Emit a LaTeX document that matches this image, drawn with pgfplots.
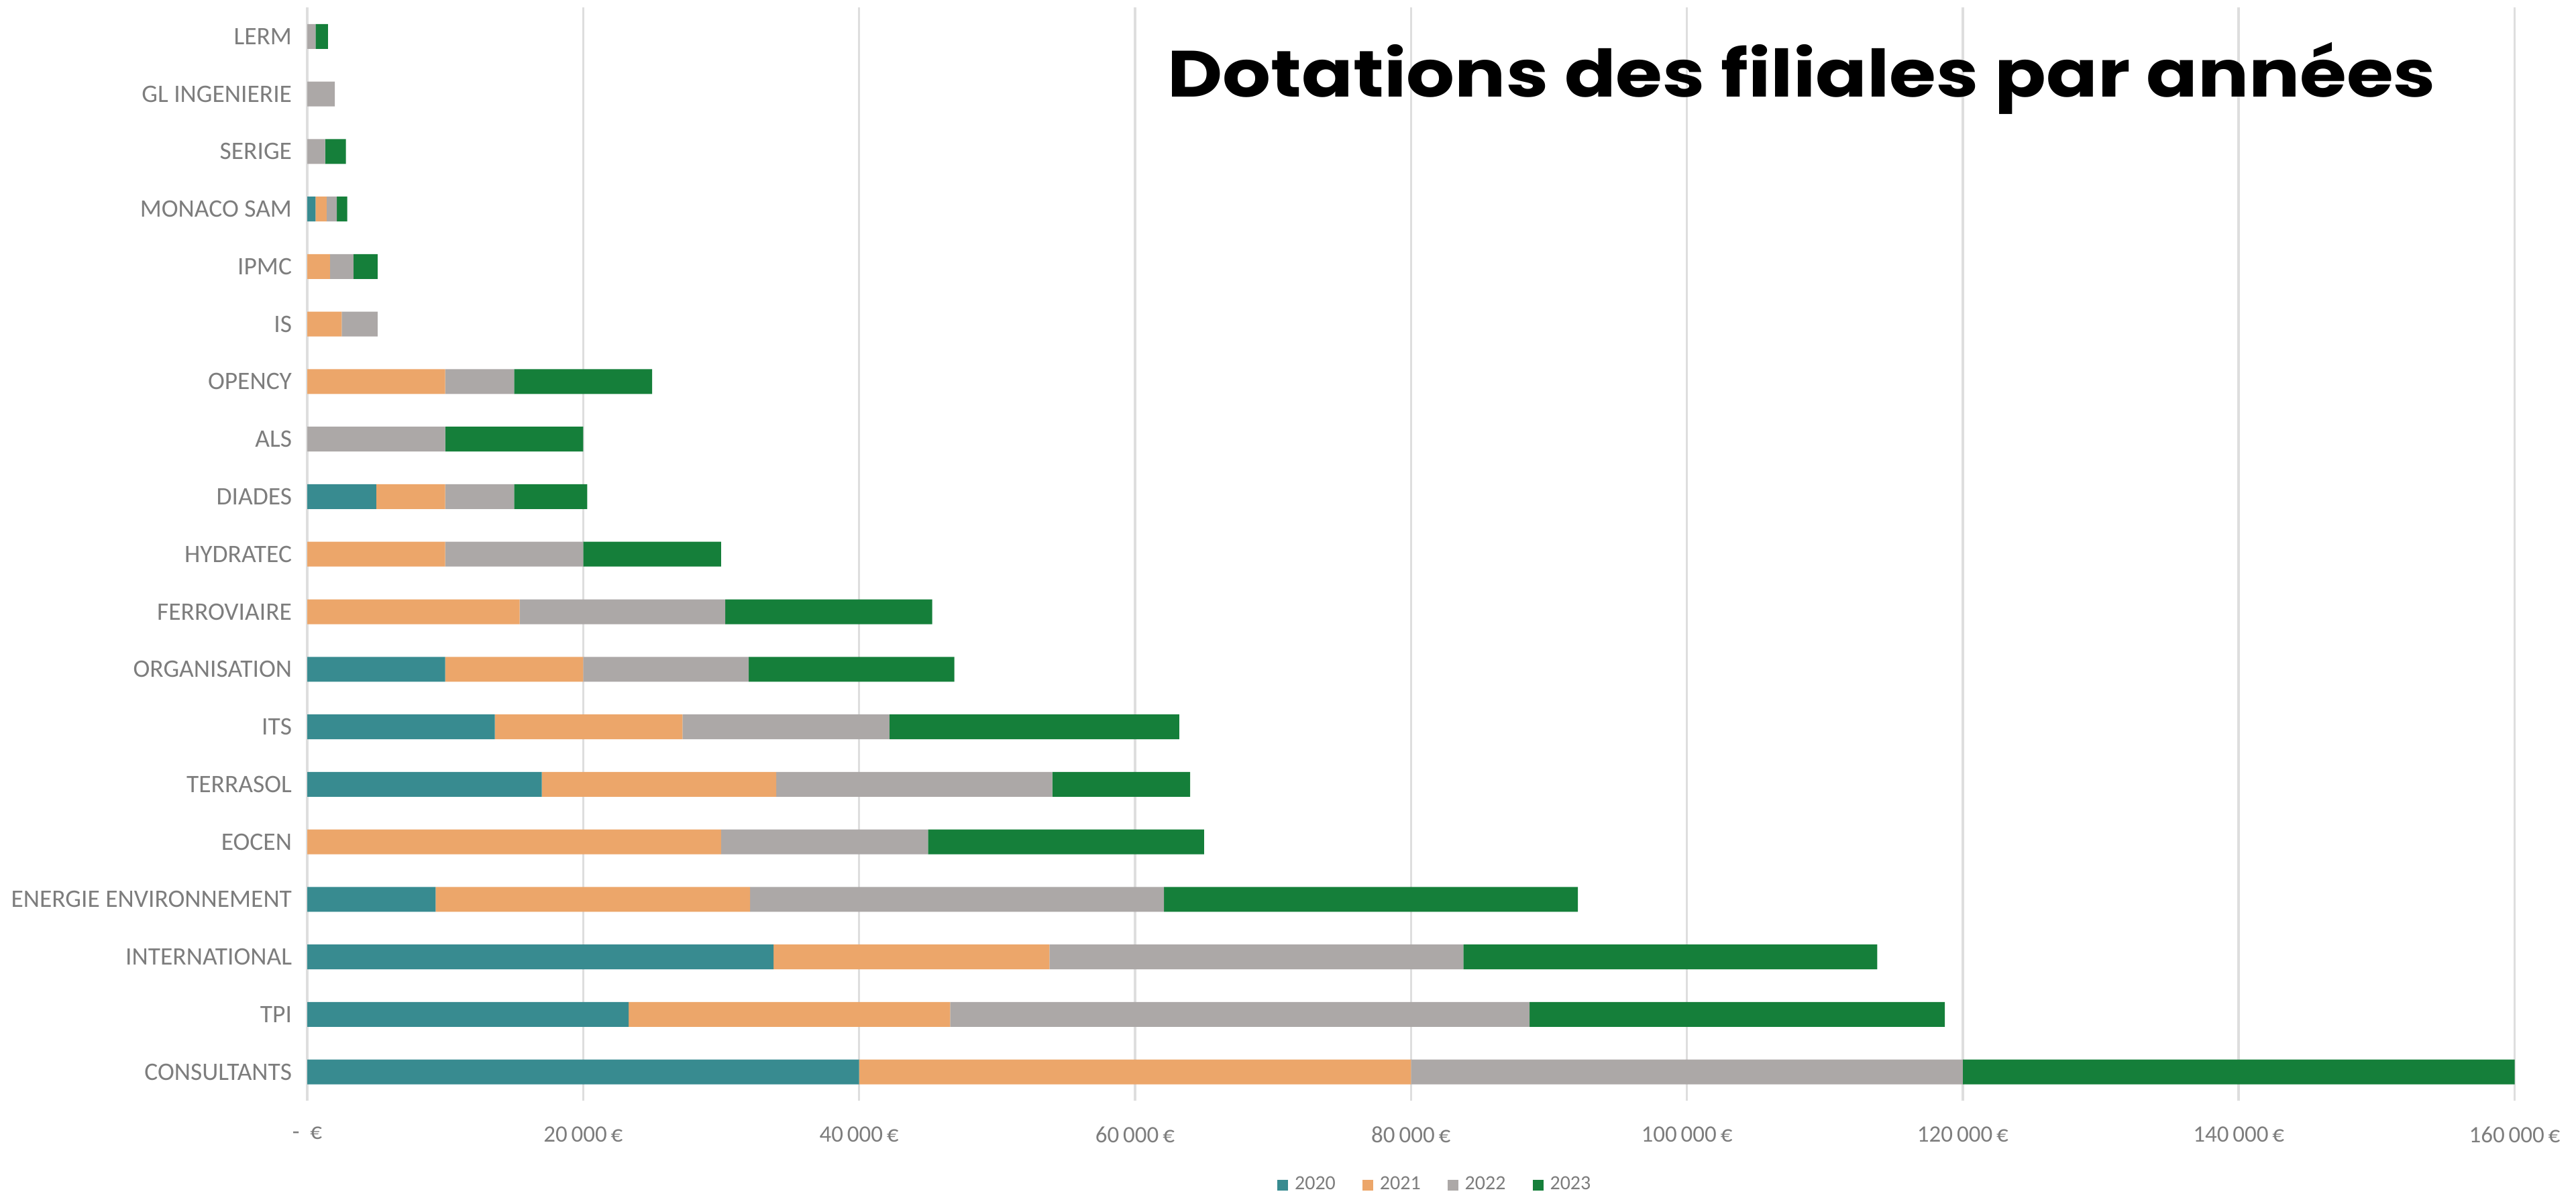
\documentclass[border=0pt]{standalone}
\usepackage{pgfplots}
\usepackage{pgfplotstable}
\pgfplotsset{compat=1.18}
\usepackage{fontspec}
\setmainfont{Carlito}
\newfontfamily\titlefont{Poppins}
\definecolor{c2020}{RGB}{56,139,144}
\definecolor{c2021}{RGB}{236,166,106}
\definecolor{c2022}{RGB}{172,168,167}
\definecolor{c2023}{RGB}{21,127,58}
\definecolor{gridgray}{RGB}{222,222,222}
\definecolor{labelgray}{RGB}{125,125,125}

\pgfplotstableread{
idx y2020 y2021 y2022 y2023
0  40000 40000 40000 40000
1  23300 23300 42000 30100
2  33800 20000 30000 30000
3  9300  22800 30000 30000
4  0     30000 15000 20000
5  17000 17000 20000 10000
6  13600 13600 15000 21000
7  10000 10000 12000 14900
8  0     15400 14900 15000
9  0     10000 10000 10000
10 5000  5000  5000  5300
11 0     0     10000 10000
12 0     10000 5000  10000
13 0     2500  2600  0
14 0     1650  1700  1750
15 600   800   750   750
16 0     0     1300  1500
17 0     0     2000  0
18 0     0     600   900
}\data

\begin{document}
\begin{tikzpicture}
\useasboundingbox (0,0) rectangle (768pt,358.8pt);
\begin{axis}[
  at={(91.6pt,30.6pt)}, anchor=south west,
  scale only axis, width=658.1pt, height=325.9pt,
  xbar stacked, bar width=7.4pt,
  xmin=0, xmax=160000, ymin=-0.5, ymax=18.5,
  scaled x ticks=false,
  axis x line=bottom, axis y line=left,
  axis line style={draw=none},
  major tick length=0pt,
  tick style={draw=none},
  xmajorgrids, grid style={draw=gridgray, line width=0.7pt},
  xtick={0,20000,40000,60000,80000,100000,120000,140000,160000},
  xticklabels={{-\ \ €},{20\,000\,€},{40\,000\,€},{60\,000\,€},{80\,000\,€},{100\,000\,€},{120\,000\,€},{140\,000\,€},{160\,000\,€}},
  ytick={0,...,18},
  yticklabels={CONSULTANTS,TPI,INTERNATIONAL,ENERGIE ENVIRONNEMENT,EOCEN,TERRASOL,ITS,ORGANISATION,FERROVIAIRE,HYDRATEC,DIADES,ALS,OPENCY,IS,IPMC,MONACO SAM,SERIGE,GL INGENIERIE,LERM},
  yticklabel style={font=\fontsize{7.5}{8}\selectfont, text=labelgray, anchor=east, inner sep=0pt, xshift=-4.4pt},
  xticklabel style={font=\fontsize{7}{8}\selectfont, text=labelgray, anchor=north, inner sep=0pt, yshift=-7.6pt},
  legend style={at={(0.512,-0.0774)}, anchor=center, legend columns=4, draw=none,
    font=\fontsize{6}{7}\selectfont, text=labelgray,
    /tikz/every even column/.append style={column sep=6pt}},
  legend image code/.code={\fill[#1] (0pt,-1.6pt) rectangle (3.2pt,1.6pt);},
]
\addplot[fill=c2020, draw=none] table[x=y2020, y=idx] {\data};
\addplot[fill=c2021, draw=none] table[x=y2021, y=idx] {\data};
\addplot[fill=c2022, draw=none] table[x=y2022, y=idx] {\data};
\addplot[fill=c2023, draw=none] table[x=y2023, y=idx] {\data};
\legend{2020,2021,2022,2023}
\end{axis}
\node[anchor=base west, inner sep=0pt, font=\titlefont\bfseries\fontsize{19.5}{22}\selectfont] at (347.9pt,329.8pt) {\scalebox{1.16}[1]{Dotations des filiales par années}};
\end{tikzpicture}
\end{document}
